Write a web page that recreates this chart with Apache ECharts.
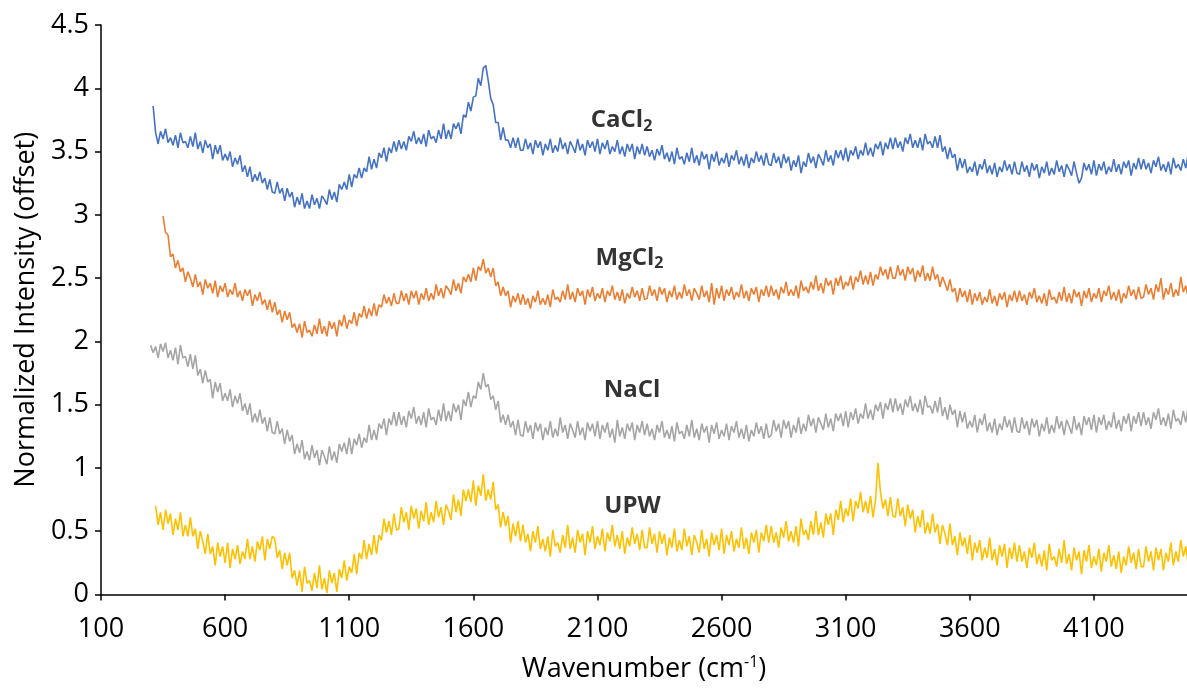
<!DOCTYPE html>
<html><head><meta charset="utf-8">
<script src="https://cdn.jsdelivr.net/npm/echarts@6/dist/echarts.min.js"></script>
<style>html,body{margin:0;padding:0;background:#fff}#c{width:1187px;height:688px}</style>
</head><body><div id="c"></div>
<script>
const wavenumber = [
300,310,320,330,340,350,360,370,380,390,400,410,420,430,440,450,460,470,480,490,500,510,520,530,540,550,560,570,580,590,600,610,620,630,640,650,660,670,680,690,700,710,720,730,740,750,760,770,780,790,
800,810,820,830,840,850,860,870,880,890,900,910,920,930,940,950,960,970,980,990,1000,1010,1020,1030,1040,1050,1060,1070,1080,1090,1100,1110,1120,1130,1140,1150,1160,1170,1180,1190,1200,1210,1220,1230,1240,1250,1260,1270,1280,1290,
1300,1310,1320,1330,1340,1350,1360,1370,1380,1390,1400,1410,1420,1430,1440,1450,1460,1470,1480,1490,1500,1510,1520,1530,1540,1550,1560,1570,1580,1590,1600,1610,1620,1630,1640,1650,1660,1670,1680,1690,1700,1710,1720,1730,1740,1750,1760,1770,1780,1790,
1800,1810,1820,1830,1840,1850,1860,1870,1880,1890,1900,1910,1920,1930,1940,1950,1960,1970,1980,1990,2000,2010,2020,2030,2040,2050,2060,2070,2080,2090,2100,2110,2120,2130,2140,2150,2160,2170,2180,2190,2200,2210,2220,2230,2240,2250,2260,2270,2280,2290,
2300,2310,2320,2330,2340,2350,2360,2370,2380,2390,2400,2410,2420,2430,2440,2450,2460,2470,2480,2490,2500,2510,2520,2530,2540,2550,2560,2570,2580,2590,2600,2610,2620,2630,2640,2650,2660,2670,2680,2690,2700,2710,2720,2730,2740,2750,2760,2770,2780,2790,
2800,2810,2820,2830,2840,2850,2860,2870,2880,2890,2900,2910,2920,2930,2940,2950,2960,2970,2980,2990,3000,3010,3020,3030,3040,3050,3060,3070,3080,3090,3100,3110,3120,3130,3140,3150,3160,3170,3180,3190,3200,3210,3220,3230,3240,3250,3260,3270,3280,3290,
3300,3310,3320,3330,3340,3350,3360,3370,3380,3390,3400,3410,3420,3430,3440,3450,3460,3470,3480,3490,3500,3510,3520,3530,3540,3550,3560,3570,3580,3590,3600,3610,3620,3630,3640,3650,3660,3670,3680,3690,3700,3710,3720,3730,3740,3750,3760,3770,3780,3790,
3800,3810,3820,3830,3840,3850,3860,3870,3880,3890,3900,3910,3920,3930,3940,3950,3960,3970,3980,3990,4000,4010,4020,4030,4040,4050,4060,4070,4080,4090,4100,4110,4120,4130,4140,4150,4160,4170,4180,4190,4200,4210,4220,4230,4240,4250,4260,4270,4280,4290,
4300,4310,4320,4330,4340,4350,4360,4370,4380,4390,4400,4410,4420,4430,4440,4450,4460,4470,4480];

const seriesNames = ['CaCl2', 'MgCl2', 'NaCl', 'UPW'];

const cacl2 = [
null,3.86,3.65,3.56,3.66,3.60,3.68,3.57,3.61,3.55,3.63,3.53,3.65,3.57,3.58,3.53,3.62,3.54,3.65,3.52,3.58,3.49,3.59,3.53,3.56,3.44,3.55,3.48,3.55,3.43,3.48,3.43,3.50,3.38,3.45,3.40,3.47,3.34,3.39,3.30,3.38,3.26,3.32,3.27,3.34,3.25,3.29,3.20,3.28,3.18,
3.17,3.26,3.17,3.21,3.11,3.21,3.14,3.18,3.06,3.14,3.08,3.17,3.05,3.11,3.05,3.16,3.08,3.13,3.05,3.15,3.12,3.08,3.20,3.12,3.18,3.10,3.24,3.20,3.26,3.20,3.32,3.22,3.32,3.29,3.37,3.29,3.37,3.34,3.46,3.36,3.44,3.37,3.49,3.45,3.53,3.42,3.53,3.49,3.58,3.50,
3.59,3.52,3.58,3.51,3.62,3.58,3.66,3.56,3.61,3.56,3.64,3.54,3.67,3.60,3.62,3.57,3.67,3.60,3.72,3.60,3.67,3.60,3.72,3.68,3.73,3.64,3.79,3.77,3.89,3.82,3.93,3.94,4.08,4.02,4.16,4.18,4.06,3.92,3.87,3.73,3.73,3.59,3.69,3.59,3.59,3.53,3.61,3.53,3.61,3.51,
3.51,3.60,3.52,3.57,3.48,3.59,3.53,3.58,3.47,3.56,3.51,3.60,3.49,3.55,3.50,3.61,3.52,3.57,3.48,3.58,3.54,3.49,3.60,3.51,3.56,3.47,3.59,3.53,3.58,3.50,3.60,3.48,3.57,3.52,3.59,3.48,3.54,3.50,3.59,3.48,3.54,3.46,3.56,3.50,3.56,3.44,3.54,3.48,3.56,3.47,
3.54,3.46,3.51,3.43,3.52,3.47,3.55,3.44,3.49,3.42,3.50,3.40,3.53,3.44,3.46,3.40,3.49,3.42,3.53,3.41,3.47,3.39,3.50,3.44,3.48,3.36,3.48,3.42,3.50,3.39,3.45,3.41,3.49,3.38,3.47,3.43,3.51,3.40,3.46,3.39,3.48,3.37,3.45,3.41,3.50,3.42,3.47,3.39,3.49,3.40,
3.39,3.49,3.41,3.46,3.37,3.48,3.41,3.46,3.35,3.43,3.38,3.47,3.33,3.42,3.38,3.49,3.41,3.46,3.37,3.48,3.44,3.39,3.51,3.42,3.47,3.39,3.51,3.45,3.51,3.43,3.53,3.42,3.51,3.47,3.54,3.44,3.51,3.47,3.57,3.47,3.53,3.46,3.56,3.52,3.58,3.47,3.57,3.52,3.61,3.52,
3.61,3.53,3.58,3.50,3.61,3.56,3.64,3.53,3.59,3.53,3.61,3.51,3.64,3.56,3.58,3.53,3.62,3.53,3.63,3.50,3.54,3.44,3.53,3.45,3.48,3.35,3.45,3.37,3.44,3.33,3.38,3.34,3.42,3.31,3.40,3.36,3.44,3.33,3.39,3.32,3.41,3.30,3.38,3.34,3.43,3.35,3.40,3.32,3.42,3.33,
3.32,3.42,3.34,3.39,3.30,3.41,3.35,3.40,3.29,3.38,3.33,3.42,3.31,3.37,3.32,3.43,3.34,3.39,3.30,3.40,3.36,3.31,3.42,3.33,3.25,3.29,3.41,3.35,3.40,3.32,3.43,3.31,3.40,3.35,3.42,3.32,3.38,3.34,3.44,3.34,3.40,3.32,3.42,3.37,3.43,3.31,3.41,3.36,3.45,3.36,
3.44,3.36,3.41,3.33,3.43,3.38,3.46,3.35,3.40,3.34,3.42,3.32,3.45,3.37,3.40,3.35,3.44,3.37,3.48];

const mgcl2 = [
null,null,null,null,null,2.99,2.86,2.84,2.67,2.69,2.58,2.64,2.55,2.58,2.47,2.55,2.50,2.43,2.53,2.43,2.47,2.37,2.49,2.42,2.46,2.38,2.48,2.35,2.44,2.39,2.46,2.35,2.41,2.37,2.46,2.35,2.40,2.32,2.41,2.36,2.41,2.28,2.37,2.32,2.39,2.29,2.33,2.25,2.33,2.23,
2.31,2.21,2.25,2.15,2.24,2.17,2.23,2.11,2.14,2.07,2.14,2.03,2.16,2.07,2.09,2.04,2.13,2.06,2.18,2.06,2.12,2.04,2.16,2.10,2.15,2.04,2.17,2.12,2.21,2.10,2.17,2.14,2.23,2.12,2.22,2.19,2.28,2.18,2.26,2.20,2.30,2.20,2.29,2.27,2.37,2.30,2.35,2.28,2.38,2.30,
2.30,2.40,2.32,2.38,2.29,2.40,2.34,2.40,2.29,2.38,2.33,2.42,2.32,2.38,2.33,2.45,2.36,2.42,2.34,2.44,2.41,2.37,2.49,2.40,2.46,2.38,2.51,2.47,2.53,2.47,2.58,2.48,2.59,2.56,2.65,2.54,2.58,2.51,2.58,2.44,2.47,2.36,2.43,2.36,2.40,2.27,2.36,2.31,2.38,2.29,
2.37,2.29,2.34,2.26,2.36,2.31,2.40,2.29,2.34,2.29,2.37,2.27,2.41,2.33,2.35,2.31,2.40,2.33,2.45,2.33,2.39,2.31,2.42,2.36,2.40,2.29,2.41,2.35,2.43,2.32,2.38,2.34,2.42,2.31,2.40,2.36,2.44,2.33,2.39,2.32,2.41,2.30,2.38,2.34,2.43,2.35,2.40,2.32,2.42,2.33,
2.34,2.44,2.36,2.41,2.32,2.43,2.37,2.42,2.31,2.40,2.35,2.44,2.33,2.39,2.34,2.45,2.36,2.41,2.32,2.42,2.38,2.33,2.44,2.35,2.40,2.31,2.46,2.29,2.42,2.34,2.44,2.32,2.41,2.36,2.43,2.33,2.39,2.35,2.45,2.34,2.40,2.32,2.42,2.37,2.43,2.31,2.41,2.36,2.44,2.35,
2.44,2.36,2.41,2.33,2.43,2.38,2.47,2.36,2.41,2.36,2.44,2.34,2.48,2.40,2.43,2.38,2.47,2.41,2.52,2.40,2.46,2.38,2.50,2.44,2.48,2.37,2.50,2.44,2.52,2.41,2.47,2.44,2.52,2.41,2.51,2.47,2.56,2.45,2.52,2.45,2.55,2.44,2.53,2.49,2.59,2.52,2.57,2.49,2.59,2.50,
2.50,2.60,2.52,2.57,2.48,2.59,2.53,2.58,2.47,2.56,2.51,2.60,2.48,2.54,2.48,2.59,2.49,2.53,2.43,2.51,2.46,2.40,2.49,2.39,2.42,2.31,2.42,2.35,2.40,2.31,2.41,2.29,2.38,2.32,2.39,2.29,2.35,2.31,2.41,2.30,2.36,2.28,2.38,2.33,2.39,2.27,2.37,2.32,2.40,2.31,
2.40,2.32,2.37,2.29,2.39,2.34,2.42,2.31,2.36,2.30,2.38,2.28,2.41,2.33,2.35,2.30,2.39,2.32,2.43,2.31,2.38,2.30,2.41,2.35,2.39,2.28,2.40,2.34,2.42,2.31,2.38,2.34,2.42,2.31,2.40,2.36,2.44,2.33,2.39,2.32,2.41,2.30,2.38,2.34,2.44,2.36,2.41,2.33,2.43,2.34,
2.35,2.45,2.37,2.42,2.33,2.45,2.39,2.50,2.33,2.42,2.37,2.46,2.35,2.41,2.36,2.51,2.39,2.44,2.35];

const nacl = [
1.97,1.91,1.96,1.87,1.98,1.92,1.99,1.87,1.93,1.85,1.95,1.82,1.97,1.87,1.88,1.80,1.90,1.78,1.89,1.73,1.78,1.67,1.77,1.68,1.70,1.55,1.68,1.60,1.67,1.53,1.59,1.53,1.62,1.48,1.57,1.51,1.59,1.45,1.51,1.42,1.51,1.36,1.43,1.36,1.46,1.35,1.40,1.29,1.40,1.28,
1.27,1.37,1.27,1.31,1.19,1.30,1.21,1.26,1.11,1.19,1.12,1.22,1.07,1.13,1.06,1.18,1.08,1.14,1.02,1.14,1.09,1.03,1.17,1.06,1.13,1.04,1.19,1.13,1.20,1.11,1.24,1.11,1.23,1.18,1.27,1.16,1.24,1.20,1.34,1.22,1.30,1.22,1.35,1.31,1.39,1.26,1.39,1.34,1.44,1.33,
1.44,1.34,1.41,1.32,1.45,1.39,1.48,1.35,1.41,1.34,1.44,1.32,1.47,1.38,1.40,1.34,1.46,1.37,1.51,1.37,1.45,1.37,1.51,1.44,1.50,1.38,1.54,1.49,1.60,1.48,1.57,1.55,1.68,1.62,1.75,1.64,1.66,1.54,1.57,1.46,1.53,1.36,1.42,1.34,1.42,1.32,1.37,1.26,1.38,1.26,
1.25,1.37,1.28,1.34,1.23,1.36,1.29,1.35,1.22,1.32,1.26,1.37,1.24,1.31,1.25,1.40,1.28,1.34,1.23,1.35,1.30,1.24,1.37,1.26,1.32,1.22,1.36,1.29,1.35,1.25,1.37,1.23,1.34,1.28,1.36,1.24,1.31,1.20,1.38,1.25,1.32,1.23,1.35,1.29,1.36,1.22,1.34,1.28,1.37,1.26,
1.35,1.25,1.31,1.22,1.34,1.28,1.37,1.24,1.30,1.23,1.33,1.21,1.36,1.27,1.29,1.23,1.34,1.25,1.38,1.24,1.31,1.22,1.35,1.28,1.33,1.20,1.34,1.27,1.36,1.23,1.30,1.25,1.35,1.22,1.33,1.28,1.37,1.24,1.31,1.23,1.34,1.21,1.30,1.25,1.36,1.27,1.33,1.23,1.35,1.24,
1.26,1.38,1.29,1.35,1.24,1.38,1.31,1.37,1.24,1.34,1.28,1.40,1.27,1.35,1.29,1.42,1.33,1.39,1.28,1.40,1.35,1.30,1.43,1.32,1.39,1.29,1.43,1.37,1.43,1.33,1.45,1.32,1.44,1.38,1.47,1.35,1.43,1.39,1.51,1.39,1.46,1.38,1.50,1.45,1.52,1.39,1.51,1.46,1.55,1.44,
1.55,1.45,1.51,1.42,1.54,1.48,1.57,1.45,1.51,1.44,1.54,1.42,1.57,1.48,1.49,1.43,1.53,1.44,1.56,1.41,1.48,1.38,1.50,1.42,1.46,1.32,1.45,1.36,1.44,1.31,1.37,1.32,1.42,1.28,1.39,1.34,1.43,1.29,1.36,1.28,1.39,1.26,1.35,1.30,1.41,1.32,1.38,1.28,1.40,1.29,
1.28,1.40,1.31,1.37,1.26,1.39,1.32,1.38,1.25,1.35,1.29,1.40,1.27,1.34,1.28,1.41,1.31,1.37,1.26,1.38,1.33,1.27,1.41,1.30,1.36,1.26,1.41,1.34,1.40,1.30,1.42,1.28,1.40,1.34,1.42,1.30,1.37,1.32,1.44,1.31,1.38,1.29,1.41,1.35,1.43,1.29,1.41,1.35,1.44,1.33,
1.44,1.34,1.40,1.31,1.44,1.38,1.47,1.34,1.40,1.33,1.43,1.31,1.46,1.37,1.39,1.34,1.45,1.36,1.49];

const upw = [
null,null,0.70,0.55,0.65,0.51,0.67,0.56,0.64,0.47,0.60,0.51,0.65,0.46,0.55,0.46,0.61,0.46,0.52,0.36,0.50,0.42,0.32,0.48,0.32,0.38,0.23,0.41,0.30,0.38,0.25,0.41,0.21,0.36,0.28,0.39,0.24,0.34,0.28,0.44,0.28,0.38,0.26,0.42,0.35,0.46,0.27,0.44,0.36,0.46,
0.44,0.29,0.35,0.20,0.33,0.23,0.33,0.13,0.19,0.07,0.19,0.02,0.22,0.09,0.11,0.03,0.17,0.05,0.23,0.04,0.13,0.01,0.19,0.09,0.17,0.02,0.20,0.13,0.27,0.11,0.22,0.17,0.32,0.16,0.33,0.28,0.43,0.28,0.40,0.31,0.47,0.32,0.47,0.43,0.60,0.49,0.58,0.47,0.64,0.51,
0.52,0.69,0.57,0.65,0.51,0.70,0.60,0.68,0.52,0.66,0.58,0.73,0.55,0.65,0.57,0.74,0.61,0.69,0.55,0.71,0.66,0.59,0.79,0.65,0.75,0.62,0.83,0.74,0.83,0.73,0.90,0.70,0.86,0.78,0.95,0.74,0.83,0.75,0.89,0.67,0.71,0.53,0.65,0.54,0.62,0.41,0.56,0.46,0.58,0.42,
0.55,0.41,0.48,0.34,0.50,0.41,0.54,0.36,0.44,0.34,0.46,0.30,0.51,0.38,0.41,0.33,0.47,0.37,0.55,0.36,0.45,0.33,0.51,0.41,0.48,0.31,0.50,0.41,0.54,0.36,0.46,0.39,0.52,0.34,0.49,0.42,0.55,0.38,0.47,0.36,0.50,0.32,0.45,0.38,0.53,0.40,0.48,0.35,0.51,0.37,
0.37,0.53,0.40,0.48,0.33,0.50,0.40,0.48,0.31,0.45,0.37,0.52,0.34,0.43,0.35,0.52,0.38,0.46,0.31,0.47,0.41,0.33,0.51,0.36,0.44,0.30,0.49,0.39,0.47,0.35,0.52,0.32,0.47,0.39,0.50,0.34,0.44,0.37,0.53,0.36,0.45,0.32,0.49,0.41,0.51,0.33,0.49,0.42,0.55,0.41,
0.54,0.41,0.49,0.37,0.53,0.45,0.58,0.42,0.50,0.41,0.54,0.38,0.60,0.47,0.51,0.43,0.58,0.47,0.66,0.47,0.57,0.45,0.64,0.55,0.64,0.47,0.67,0.59,0.74,0.57,0.68,0.62,0.76,0.58,0.74,0.68,0.81,0.65,0.74,0.64,0.78,0.61,0.74,1.04,0.81,0.68,0.75,0.62,0.77,0.62,
0.61,0.76,0.62,0.69,0.54,0.71,0.60,0.67,0.49,0.62,0.53,0.67,0.48,0.57,0.48,0.64,0.49,0.56,0.40,0.55,0.48,0.39,0.56,0.39,0.46,0.31,0.49,0.38,0.45,0.32,0.47,0.27,0.41,0.33,0.43,0.27,0.37,0.29,0.45,0.27,0.36,0.23,0.39,0.30,0.40,0.21,0.37,0.28,0.41,0.26,
0.39,0.26,0.34,0.21,0.37,0.29,0.41,0.24,0.32,0.22,0.35,0.19,0.40,0.27,0.30,0.22,0.36,0.25,0.43,0.24,0.32,0.19,0.37,0.27,0.34,0.16,0.35,0.26,0.39,0.21,0.30,0.23,0.36,0.18,0.33,0.26,0.39,0.22,0.31,0.20,0.34,0.17,0.30,0.23,0.38,0.25,0.33,0.20,0.36,0.22,
0.22,0.38,0.26,0.34,0.19,0.37,0.27,0.36,0.19,0.33,0.26,0.41,0.23,0.34,0.26,0.43,0.30,0.38,0.23];

const seriesValues = [cacl2, mgcl2, nacl, upw];
const seriesColors = ['#4472C4', '#ED7D31', '#A5A5A5', '#FFC000'];

const FONT = "'Open Sans', 'Noto Sans', sans-serif";
const chart = echarts.init(document.getElementById('c'), null, {renderer: 'canvas'});

const lineSeries = seriesNames.map((name, k) => ({
  name: name,
  type: 'line',
  showSymbol: false,
  symbol: 'none',
  connectNulls: false,
  clip: true,
  lineStyle: {color: seriesColors[k], width: 1.6},
  itemStyle: {color: seriesColors[k]},
  data: wavenumber.map((w, i) => [w, seriesValues[k][i]]),
  z: 2
}));

const annotations = [
  {value: [2197, 3.746], name: '{b|CaCl}{s|2}'},
  {value: [2229, 2.661], name: '{b|MgCl}{s|2}'},
  {value: [2239, 1.612], name: '{b|NaCl}'},
  {value: [2241, 0.701], name: '{b|UPW}'}
];

const option = {
  animation: false,
  backgroundColor: '#fff',
  grid: {left: 101, right: 0, top: 25, bottom: 85, containLabel: false},
  xAxis: {
    type: 'value', min: 100, max: 4475, interval: 500,
    name: '{a|Wavenumber (cm}{s|-1}{a|)}',
    nameLocation: 'middle', nameGap: 60,
    nameTextStyle: {
      rich: {
        a: {fontFamily: FONT, fontSize: 27, color: '#000', lineHeight: 30},
        s: {fontFamily: FONT, fontSize: 16, color: '#000', lineHeight: 20, verticalAlign: 'top'}
      }
    },
    axisLine: {show: true, onZero: false, lineStyle: {color: '#000', width: 1.5}},
    axisTick: {show: true, length: 6, lineStyle: {color: '#000', width: 1.5}},
    axisLabel: {fontFamily: FONT, fontSize: 27, color: '#000', margin: 21, showMaxLabel: false,
      formatter: v => String(v)},
    splitLine: {show: false}
  },
  yAxis: {
    type: 'value', min: 0, max: 4.5, interval: 0.5,
    name: 'Normalized Intensity (offset)',
    nameLocation: 'middle', nameGap: 60,
    nameTextStyle: {fontFamily: FONT, fontSize: 27, color: '#000'},
    axisLine: {show: true, lineStyle: {color: '#000', width: 1.5}},
    axisTick: {show: true, length: 6, lineStyle: {color: '#000', width: 1.5}},
    axisLabel: {fontFamily: FONT, fontSize: 27, color: '#000', margin: 12},
    splitLine: {show: false}
  },
  series: lineSeries.concat([{
    type: 'scatter',
    silent: true,
    symbolSize: 1,
    itemStyle: {color: 'rgba(0,0,0,0)'},
    data: annotations,
    z: 5,
    label: {
      show: true,
      position: 'inside',
      formatter: p => p.name,
      rich: {
        b: {fontFamily: FONT, fontWeight: 'bold', fontSize: 24, lineHeight: 28, color: '#000'},
        s: {fontFamily: FONT, fontWeight: 'bold', fontSize: 16, lineHeight: 8, verticalAlign: 'bottom', color: '#000'}
      }
    }
  }])
};
chart.setOption(option);
</script>
</body></html>
